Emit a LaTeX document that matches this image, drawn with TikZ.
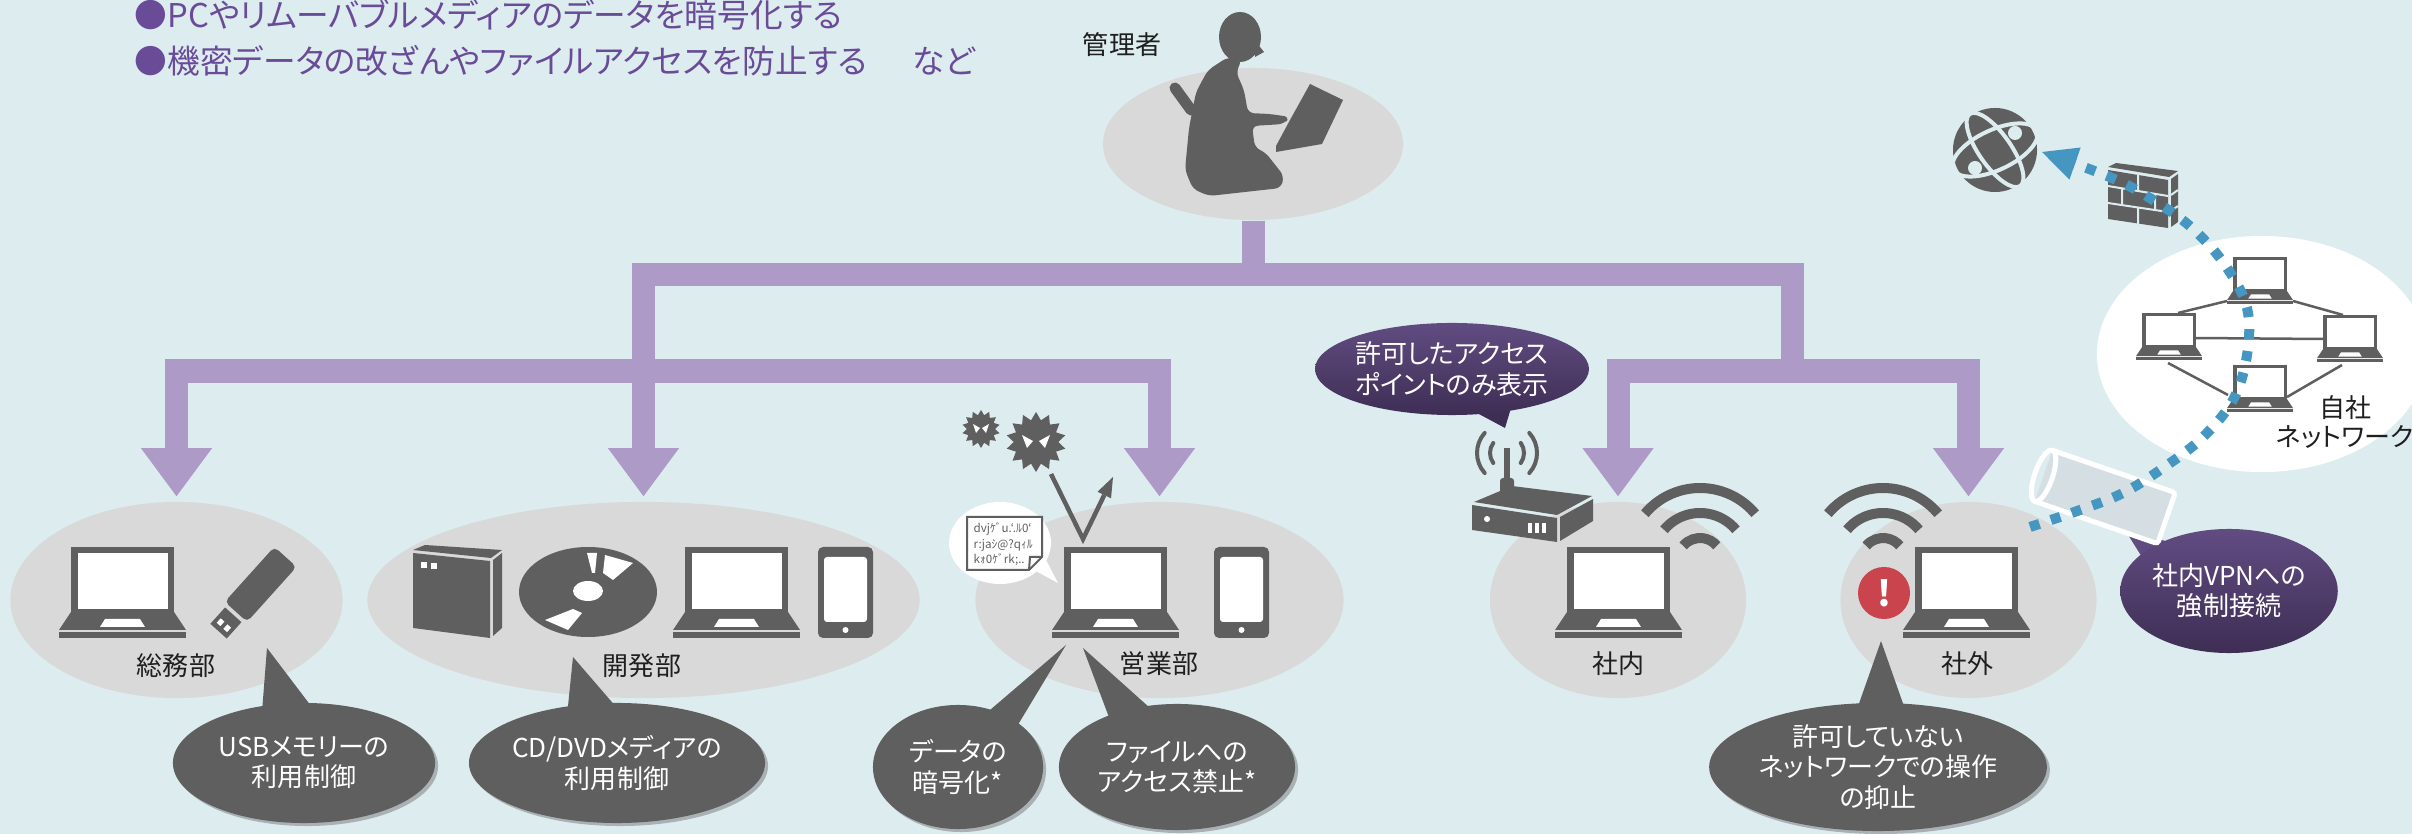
\documentclass[tikz,border=0pt]{standalone}
\usepackage{fontspec}
\setmainfont{Noto Sans CJK JP}[RawFeature=+palt]
\usetikzlibrary{arrows.meta,calc,positioning,shapes.geometric,shadows}

\definecolor{bgblue}{HTML}{DDECEF}
\definecolor{disk}{HTML}{D9D9D9}
\definecolor{treeviolet}{HTML}{AD9AC7}
\definecolor{icongray}{HTML}{5F5F5F}
\definecolor{callshade}{HTML}{A9B1B4}
\definecolor{plumtop}{HTML}{614C82}
\definecolor{plumbot}{HTML}{3E2E54}
\definecolor{titleviolet}{HTML}{694B98}
\definecolor{vpnblue}{HTML}{4596C0}
\definecolor{alertred}{HTML}{C9444C}
\definecolor{tubegray}{HTML}{D5DFE3}

\tikzset{
  laptop/.pic={
    \fill[icongray] (12,0) rectangle (115,66);
    \fill[white] (19,6) rectangle (109,62);
    \fill[icongray] (12,65) -- (115,65) -- (127,83) -- (0,83) -- cycle;
    \fill[white] (41,80) -- (46,72) -- (81,72) -- (86,80) -- cycle;
    \fill[icongray] (0,85) rectangle (127,91);
  },
  phone/.pic={
    \fill[icongray,rounded corners=0.05cm] (0,0) rectangle (55,91);
    \fill[white,rounded corners=0.03cm] (6,10) rectangle (49,75);
    \fill[white] (27.5,83) circle[radius=3];
  }
}

\begin{document}
\begin{tikzpicture}[x=0.01cm,y=-0.01cm,
  font=\fontsize{7.4}{8.6}\selectfont,
  treehead/.tip={Triangle[width=0.71cm,length=0.48cm,line width=0pt]},
  tree/.style={draw=treeviolet,line width=0.23cm},
  dept/.style={ellipse,fill=disk,minimum height=1.96cm,inner sep=0pt},
  lbl/.style={text=black!88,inner sep=0pt},
  heading/.style={text=titleviolet,font=\fontsize{9.3}{12}\selectfont,inner sep=0pt,anchor=west},
  darkcall/.style={ellipse,fill=icongray,text=white,align=center,inner sep=0pt,
    drop shadow={shadow xshift=0.03cm,shadow yshift=-0.03cm,fill=callshade,opacity=1}},
  plumcall/.style={ellipse,top color=plumtop,bottom color=plumbot,text=white,align=center,inner sep=0pt},
  wifi/.style={draw=icongray,line width=0.1cm},
  beam/.style={draw=icongray,line width=0.04cm,line cap=round},
  netline/.style={draw=icongray,line width=0.025cm},
  vpnpath/.style={draw=vpnblue,line width=0.1cm,dash pattern=on 0.1cm off 0.12cm}]

\useasboundingbox (0,0) rectangle (2412,834);
\fill[bgblue] (0,0) rectangle (2412,834);

% headline
\node[heading] (line1) at (134,15) {●PCやリムーバブルメディアのデータを暗号化する};
\node[heading] (line2) at (134,61) {●機密データの改ざんやファイルアクセスを防止する\hspace{1.4em}など};

% administrator
\node[lbl] (admin-t) at (1122,45) {管理者};
\node[dept,minimum width=3.00cm,minimum height=1.52cm] (admin) at (1253,144) {};
\fill[icongray] (1240,37) ellipse[x radius=21,y radius=25];
\fill[icongray] (1256,42) -- (1264,52) -- (1255,57) -- cycle;
\draw[icongray,line width=0.11cm,line cap=round] (1175,88) -- (1191,110);
\fill[icongray,rounded corners=0.06cm] (1228,57) -- (1208,70) -- (1196,92) -- (1189,128) -- (1185,170)
  -- (1193,189) -- (1209,196) -- (1281,188) -- (1284,176) -- (1265,152) -- (1255,148)
  -- (1252,126) -- (1284,124) -- (1290,117) -- (1270,114) -- (1248,113) -- (1244,90)
  -- (1236,72) -- (1242,60) -- cycle;
\fill[icongray] (1310,84) -- (1343,100) -- (1322,144) -- (1276,152) -- (1276,146) -- (1290,120) -- cycle;

% departments
\node[dept,minimum width=3.32cm] (soumu) at (176.5,600) {};
\node[dept,minimum width=5.52cm] (kaihatsu) at (643.5,600) {};
\node[dept,minimum width=3.68cm] (eigyo) at (1159.5,600) {};
\node[dept,minimum width=2.56cm] (shanai) at (1618,600) {};
\node[dept,minimum width=2.56cm] (shagai) at (1968.5,600) {};

\node[lbl] (soumu-t) at (176,666) {総務部};
\node[lbl] (kaihatsu-t) at (642,666) {開発部};
\node[lbl] (eigyo-t) at (1159,664) {営業部};
\node[lbl] (shanai-t) at (1618,664) {社内};
\node[lbl] (shagai-t) at (1967,664) {社外};

% distribution tree
\coordinate (hubL) at (643.5,371);
\coordinate (hubR) at (1792.5,371);
\draw[tree] (admin.south) -- ++(0,55);
\draw[tree] (hubL) -- (643.5,275) -- (1792.5,275) -- (hubR);
\draw[tree,treehead-treehead,shorten <=0.05cm,shorten >=0.05cm] (soumu.north) |- (hubL) -| (eigyo.north);
\draw[tree,-treehead,shorten >=0.05cm] (hubL) -- (kaihatsu.north);
\draw[tree,treehead-treehead,shorten <=0.05cm,shorten >=0.05cm] (shanai.north) |- (hubR) -| (shagai.north);

% general affairs: laptop and usb stick
\pic at (59,547) {laptop};
\begin{scope}[shift={(252,594)},rotate=48]
  \fill[icongray,rounded corners=0.05cm] (-24,-15) rectangle (50,15);
  \fill[icongray] (-50,-11) rectangle (-28,11);
  \fill[white] (-45,-7) rectangle (-39,-2);
  \fill[white] (-45,2) rectangle (-39,7);
\end{scope}

% development: drive, disc, laptop, phone
\fill[icongray] (413,553) -- (490,561) -- (490,638) -- (413,628) -- cycle;
\fill[icongray] (493,560) -- (502,553) -- (502,628) -- (493,636) -- cycle;
\fill[icongray] (413,550) -- (425,545) -- (502,550) -- (491,558) -- cycle;
\fill[white] (421,562) rectangle (427,568);
\fill[white] (431,563) rectangle (437,569);
\fill[icongray] (588,592) ellipse[x radius=69,y radius=45];
\fill[white] (588,591) ellipse[x radius=15,y radius=10];
\fill[white] (587,553) -- (597,553) -- (595,573) -- (592,573) -- cycle;
\fill[white] (605,555) -- (633,563) -- (613,580) -- (603,573) -- cycle;
\fill[white] (545,620) -- (573,609) -- (582,613) -- (568,630) -- cycle;
\pic at (673,547) {laptop};
\pic at (818,547) {phone};

% sales: laptop, phone, malware, scrambled file
\pic at (1052,547) {laptop};
\pic at (1214,547) {phone};
\node[star,star points=14,star point ratio=1.35,fill=icongray,minimum size=0.38cm,inner sep=0pt] (virusS) at (981,429) {};
\node[star,star points=14,star point ratio=1.35,fill=icongray,minimum size=0.60cm,inner sep=0pt] (virusB) at (1036,442) {};
\fill[white] (973,424) -- (980,428) -- (976,433) -- cycle;
\fill[white] (989,424) -- (982,428) -- (986,433) -- cycle;
\fill[white] (1022,435) -- (1033,441) -- (1027,448) -- cycle;
\fill[white] (1050,435) -- (1039,441) -- (1045,448) -- cycle;
\coordinate (vFrom) at (1051,474);
\coordinate (vHit) at (1083,539);
\coordinate (vOut) at (1113,477);
\draw[icongray,line width=0.045cm,-{Triangle[width=0.15cm,length=0.2cm,line width=0pt]}] (vFrom) -- (vHit) -- (vOut);
\fill[white] (1000,543) ellipse[x radius=51,y radius=41];
\fill[white] (1030,568) -- (1058,583) -- (1045,558) -- cycle;
\draw[icongray,line width=0.02cm,fill=white] (967,517) -- (1042,517) -- (1042,557) -- (1029,570) -- (967,570) -- cycle;
\draw[icongray,line width=0.02cm] (1042,557) -- (1030,557) -- (1029,570);
\node[anchor=north west,inner sep=0pt,align=left,text=icongray,font=\fontsize{3.3}{4.4}\selectfont] (junk) at (973,522)
  {dvjｹﾞu.`.ﾙ0`\\r:jaｼ@?qｨﾙ\\kｫ0ｹﾞrk;..};

% in-house: access point and wifi
\fill[icongray] (1472,505) -- (1557,518) -- (1557,542) -- (1472,530) -- cycle;
\fill[icongray] (1560,517) -- (1593,499) -- (1593,521) -- (1560,541) -- cycle;
\fill[icongray] (1474,502) -- (1512,486) -- (1592,496) -- (1557,515) -- cycle;
\fill[white] (1487,519) circle[radius=3];
\foreach \x in {1528,1535,1542} \fill[white] (\x,523) rectangle ++(4,10);
\draw[icongray,line width=0.06cm] (1507,497) -- (1507,448);
\fill[icongray,rounded corners=0.03cm] (1500,478) rectangle (1514,497);
\foreach \r/\a in {17/36,30/42} {
  \draw[beam] (1507,453) ++(180-\a:\r) arc[start angle=180-\a,end angle=180+\a,radius=\r];
  \draw[beam] (1507,453) ++(-\a:\r) arc[start angle=-\a,end angle=\a,radius=\r];
}
\pic at (1555,547) {laptop};
\foreach \r in {22,47,72}
  \draw[wifi] (1700,560) ++(220:\r) arc[start angle=220,end angle=320,radius=\r];

% outside: wifi, warning, laptop
\foreach \r in {22,47,72}
  \draw[wifi] (1883,560) ++(220:\r) arc[start angle=220,end angle=320,radius=\r];
\node[circle,fill=alertred,minimum size=0.52cm,inner sep=0pt,text=white,font=\fontsize{10}{10}\bfseries] (alert) at (1884,593) {!};
\pic at (1903,547) {laptop};

% callouts
\node[darkcall,minimum width=2.62cm,minimum height=1.20cm] (usbcall) at (304,763) {USBメモリーの\\利用制御};
\fill[icongray] (262,712) -- (267,648) -- (311,706) -- cycle;
\node[darkcall,minimum width=2.66cm,minimum height=1.20cm] (cdcall) at (617,763) {CD/DVDメディアの\\利用制御};
\fill[icongray] (567,716) -- (573,657) -- (617,708) -- cycle;
\node[darkcall,minimum width=1.70cm,minimum height=1.24cm] (datacall) at (958,767) {データの\\暗号化*};
\fill[icongray] (983,716) -- (1066,645) -- (1016,728) -- cycle;
\node[darkcall,minimum width=2.36cm,minimum height=1.26cm] (filecall) at (1177,767) {ファイルへの\\アクセス禁止*};
\fill[icongray] (1110,720) -- (1083,648) -- (1150,708) -- cycle;
\node[darkcall,minimum width=2.64cm,minimum height=1.28cm] (netcall) at (1878,767) {許可していない\\ネットワークでの操作\\の抑止};
\fill[icongray] (1856,712) -- (1881,641) -- (1906,712) -- cycle;

\fill[plumbot] (1462,405) -- (1505,428) -- (1514,398) -- cycle;
\node[plumcall,minimum width=2.46cm,minimum height=0.92cm] (apcall) at (1452,369) {許可したアクセス\\ポイントのみ表示};
\fill[plumtop] (2150,570) -- (2125,530) -- (2180,545) -- cycle;
\node[plumcall,minimum width=2.12cm,minimum height=1.24cm] (vpncall) at (2229,591) {社内VPNへの\\強制接続};

% company network
\node[ellipse,fill=white,minimum width=3.30cm,minimum height=2.36cm,inner sep=0pt] (lan) at (2262,354) {};
\draw[netline] (2178,313) -- (2227,301);
\draw[netline] (2293,301) -- (2343,315);
\draw[netline] (2195,338) -- (2323,339);
\draw[netline] (2168,363) -- (2228,395);
\draw[netline] (2342,365) -- (2287,397);
\pic[scale=0.52] at (2227,257) {laptop};
\pic[scale=0.52] at (2136,313) {laptop};
\pic[scale=0.52] at (2317,315) {laptop};
\pic[scale=0.52] at (2227,365) {laptop};
\node[lbl,align=center,font=\fontsize{7.4}{8.2}\selectfont] (lan-t) at (2345,422) {自社\\ネットワーク};

% internet and firewall
\node[circle,fill=icongray,minimum size=0.84cm,inner sep=0pt] (globe) at (1995,150) {};
\begin{scope}
  \clip (1995,150) circle[radius=44];
  \draw[bgblue,line width=0.04cm,rotate around={25:(1995,150)}] (1995,150) ellipse[x radius=46,y radius=20];
  \draw[bgblue,line width=0.04cm,rotate around={-55:(1995,150)}] (1995,150) ellipse[x radius=44,y radius=16];
\end{scope}
\fill[bgblue] (2015,133) circle[radius=7];
\fill[bgblue] (1975,168) circle[radius=7];
\fill[icongray] (2108,170) -- (2168,180) -- (2168,228) -- (2108,219) -- cycle;
\fill[icongray] (2171,179) -- (2178,174) -- (2178,222) -- (2171,227) -- cycle;
\fill[icongray] (2108,167) -- (2116,163) -- (2178,171) -- (2169,177) -- cycle;
\draw[bgblue,line width=0.02cm] (2108,186) -- (2168,196) (2108,203) -- (2168,212)
  (2171,195) -- (2178,190) (2171,211) -- (2178,206)
  (2138,175) -- (2138,191) (2122,189) -- (2122,205) (2155,194) -- (2155,210) (2138,208) -- (2138,224);

% vpn tunnel and route to the internet
\begin{scope}[shift={(2105,497)},rotate=-19]
  \fill[tubegray] (-65,-27) rectangle (65,27);
  \draw[white,line width=0.05cm,rounded corners=0.03cm] (-65,-27) -- (65,-27) -- (65,27) -- (-65,27);
  \draw[white,line width=0.05cm] (-65,0) ellipse[x radius=9,y radius=27];
\end{scope}
\coordinate (vpnA) at (2030,527);
\coordinate (wanEnd) at (2042,152);
\draw[vpnpath,-{Triangle[width=0.34cm,length=0.35cm,line width=0pt]}]
  plot[smooth,tension=0.6] coordinates {(vpnA) (2080,510) (2123,493) (2163,468) (2202,438) (2233,400)
  (2247,355) (2247,308) (2225,265) (2192,228) (2153,200) (2112,178) (wanEnd)};
\end{tikzpicture}
\end{document}
